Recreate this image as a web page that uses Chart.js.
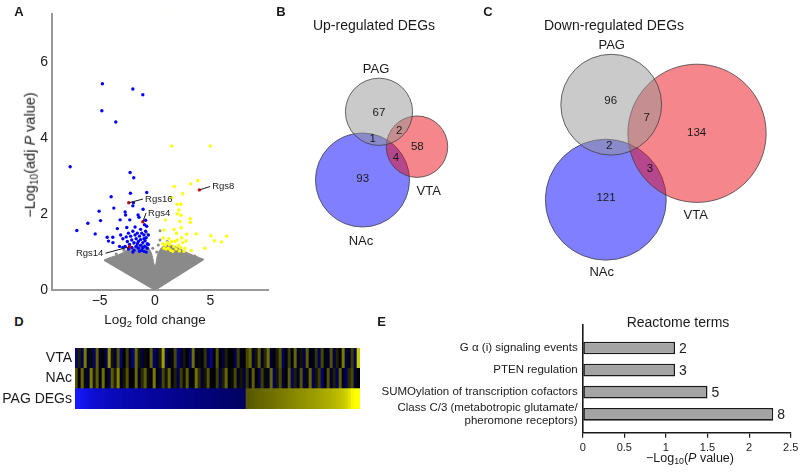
<!DOCTYPE html>
<html><head><meta charset="utf-8">
<script src="https://cdn.jsdelivr.net/npm/chart.js@4.4.1/dist/chart.umd.min.js"></script>
<style>
body{margin:0;background:#fff;width:800px;height:475px;position:relative;overflow:hidden;font-family:"Liberation Sans",Arial,sans-serif;color:#1a1a1a}
canvas{position:absolute}
.c{position:absolute;white-space:nowrap;line-height:1;transform:translate(-50%,-50%)}
.r{position:absolute;white-space:nowrap;line-height:1;transform:translate(-50%,-50%) rotate(-90deg)}
.pl{font-weight:bold;font-size:13px}
sub{font-size:70%;vertical-align:-0.25em;line-height:0}
</style></head><body>
<canvas id="cA" width="280" height="310" style="left:0;top:0"></canvas>
<canvas id="cB" width="210" height="300" style="left:290px;top:0"></canvas>
<canvas id="cC" width="280" height="300" style="left:520px;top:0"></canvas>
<canvas id="cD" width="360" height="61" style="left:0;top:348px"></canvas>
<canvas id="cE" width="420" height="160" style="left:380px;top:315px"></canvas>

<div class="c pl" style="left:19px;top:10.5px">A</div>
<div class="c pl" style="left:281px;top:10.5px">B</div>
<div class="c pl" style="left:488px;top:10.5px">C</div>
<div class="c pl" style="left:19px;top:321px">D</div>
<div class="c pl" style="left:381.5px;top:321px">E</div>

<div class="c" style="left:155px;top:320px;font-size:13.5px">Log<sub>2</sub> fold change</div>
<div class="r" style="left:30px;top:155px;font-size:14.5px">−Log<sub>10</sub>(adj <i>P</i> value)</div>
<div class="c" style="left:374px;top:25px;font-size:14px">Up-regulated DEGs</div>
<div class="c" style="left:614px;top:25px;font-size:14px">Down-regulated DEGs</div>
<div class="c" style="left:678px;top:322px;font-size:14px">Reactome terms</div>
<div class="c" style="left:690px;top:458px;font-size:12.5px">−Log<sub>10</sub>(<i>P</i> value)</div>

<script>
Chart.defaults.font.family = '"Liberation Sans", Arial, sans-serif';
Chart.defaults.color = '#1a1a1a';
Chart.defaults.layout.autoPadding = false;

// ---------- A: volcano plot ----------
const blueX = [-4.75,-2.0,-1.1,-4.8,-3.54,-7.66,-2.25,-1.92,-3.96,-2.22,-0.75,-3.72,-5.05,-1.08,-2.0,-1.95,-2.7,-2.66,-1.53,-1.45,-6.06,-4.92,-7.06,-5.4,-3.15,-2.28,-0.85,-0.95,-0.75,-3.4,-2.55,-1.8,-1.3,-4.32,-3.81,-4.2,-3.8,-3.1,-2.9,
  -2.6,-2.4,-2.2,-2.0,-1.8,-1.6,-1.4,-1.2,-1.0,-0.8,-2.5,-2.3,-2.1,-1.9,-1.7,-1.5,-1.3,-1.1,-0.9,-0.7,-2.7,-2.4,-2.1,-1.9,-1.7,-1.5,-1.3,-1.1,-0.9,-0.7,-0.6,-1.4,-1.2,-1.0,-0.8,-2.9,-3.2,-2.0,-1.6,-1.0,-0.85,-0.6];
const blueY = [5.44,5.30,5.15,4.73,4.43,3.25,3.10,2.96,2.46,2.55,2.57,2.16,2.08,2.13,2.22,2.30,2.06,1.98,1.98,1.92,1.76,1.83,1.57,1.48,1.85,1.85,1.84,1.72,1.68,1.62,1.65,1.66,1.60,1.39,1.39,1.29,1.25,1.45,1.35,
  1.40,1.50,1.42,1.55,1.45,1.50,1.42,1.50,1.45,1.38,1.28,1.20,1.32,1.25,1.35,1.28,1.33,1.25,1.30,1.22,1.15,1.08,1.12,1.05,1.15,1.10,1.18,1.12,1.15,1.10,1.20,1.02,1.05,1.02,1.00,1.12,1.15,1.00,1.22,1.35,1.55,1.45];
const yellowX = [1.71,1.5,4.98,3.87,3.21,1.74,2.5,1.5,2.01,2.34,2.16,2.01,2.34,3.18,0.93,2.25,3.18,1.71,2.37,0.81,1.95,2.86,3.72,5.05,6.46,5.37,6.0,4.48,3.27,0.75,
  0.7,0.9,1.1,1.3,1.5,1.2,1.0,0.8,1.4,1.7,1.9,2.1,2.3,2.5,2.7,2.0,2.4,1.6,2.2,2.6,1.8,2.8,1.25];
const yellowY = [7.32,3.80,3.80,2.89,2.80,2.73,2.54,2.44,2.26,2.26,2.11,2.01,1.97,1.88,1.85,1.81,1.78,1.60,1.64,1.58,1.50,1.47,1.48,1.43,1.42,1.30,1.27,1.10,1.04,1.37,
  1.22,1.18,1.25,1.20,1.28,1.10,1.08,1.10,1.05,1.15,1.08,1.18,1.12,1.25,1.10,1.32,1.38,1.02,1.03,1.02,1.28,1.30,1.35];
const greyExtraX = [-0.75,0.3,0.45,0.45,-0.2,0.15,-3.5,3.6,-2.8,1.1,-1.9];
const greyExtraY = [1.50,1.19,1.56,1.32,1.10,1.00,0.95,0.90,1.05,1.28,1.22];
// outline of the dense non-significant cloud (lower V edge and upper boundary)
const cloudLowX = [-4.6,0,4.4];
const cloudLowY = [0.79,0,0.81];
const cloudTopX = [-4.6,-4.2,-3.6,-3.0,-2.5,-2.0,-1.5,-1.0,-0.6,-0.3,0,0.25,0.6,1.0,1.5,2.0,2.5,3.0,3.6,4.4];
const cloudTopY = [0.79,0.84,0.90,0.97,1.05,1.12,1.18,1.20,1.12,0.95,0.62,0.95,1.12,1.18,1.18,1.12,1.05,0.97,0.90,0.81];
const rgsGenes = ['Rgs16','Rgs4','Rgs14','Rgs8'];
const rgsX = [-2.37,-1.1,-2.3,4.0];
const rgsY = [2.30,1.80,1.14,2.64];
const rgsLabelX = [-0.9,-0.63,-4.66,5.16];
const rgsLabelY = [2.40,2.03,0.97,2.73];
const volcanoXTicks = [-5,0,5];
const volcanoYTicks = [0,2,4,6];

const xy = (xs, ys) => xs.map((x,i)=>({x, y: ys[i]}));
const fmtMinus = v => (v < 0 ? '\u2212' + Math.abs(v) : String(v));
const noPadV = s => { s.paddingTop = 0; s.paddingBottom = 0; };

const rgsPlugin = {
  id:'rgsLabels',
  afterDatasetsDraw(chart){
    const {ctx, scales:{x, y}} = chart;
    ctx.save();
    ctx.font = '9.5px "Liberation Sans", Arial, sans-serif';
    ctx.fillStyle = '#1a1a1a'; ctx.strokeStyle = '#1a1a1a'; ctx.lineWidth = 1;
    ctx.textBaseline = 'middle';
    rgsGenes.forEach((g,i)=>{
      const px = x.getPixelForValue(rgsX[i]), py = y.getPixelForValue(rgsY[i]);
      const tx = x.getPixelForValue(rgsLabelX[i]), ty = y.getPixelForValue(rgsLabelY[i]);
      const left = rgsLabelX[i] > rgsX[i];
      ctx.beginPath(); ctx.moveTo(px, py); ctx.lineTo(tx + (left ? -2 : 2), ty); ctx.stroke();
      ctx.textAlign = left ? 'left' : 'right';
      ctx.fillText(g, tx, ty);
    });
    ctx.restore();
  }
};

new Chart(document.getElementById('cA'), {
  type:'scatter',
  data:{datasets:[
    {type:'line', data: xy(cloudLowX, cloudLowY), borderColor:'rgb(138,138,138)', borderWidth:1.5, pointRadius:0, fill:false, order:6},
    {type:'line', data: xy(cloudTopX, cloudTopY), borderColor:'rgb(138,138,138)', borderWidth:1, pointRadius:0, fill:'-1', backgroundColor:'rgb(138,138,138)', tension:0.3, order:6},
    {data: xy(greyExtraX, greyExtraY), backgroundColor:'rgb(138,138,138)', pointRadius:1.5, borderWidth:0, order:5},
    {data: xy(blueX, blueY), backgroundColor:'#0000ff', pointRadius:1.7, borderWidth:0, order:3},
    {data: xy(yellowX, yellowY), backgroundColor:'#ffff00', pointRadius:1.7, borderWidth:0, order:2},
    {data: xy(rgsX, rgsY), backgroundColor:'#e00000', pointRadius:1.7, borderWidth:0, order:1}
  ]},
  options:{
    responsive:false, animation:false, events:[],
    layout:{padding:{top:14, right:12}},
    plugins:{legend:{display:false}, tooltip:{enabled:false}},
    scales:{
      x:{type:'linear', min:-9.3, max:10.2,
         afterBuildTicks: s => { s.ticks = volcanoXTicks.map(v=>({value:v})); },
         ticks:{callback: fmtMinus, font:{size:14}, padding:3, maxRotation:0},
         grid:{display:false, drawTicks:false}, border:{color:'#999', width:2},
         afterFit: s => { s.height = 20; s.paddingLeft = 0; s.paddingRight = 0; }},
      y:{type:'linear', min:0, max:7.28,
         afterBuildTicks: s => { s.ticks = volcanoYTicks.map(v=>({value:v})); },
         ticks:{callback: fmtMinus, font:{size:14}, padding:4},
         grid:{display:false, drawTicks:false}, border:{color:'#999', width:2},
         afterFit: s => { s.width = 52; noPadV(s); }}
    }
  },
  plugins:[rgsPlugin]
});

// ---------- B, C: Venn diagrams (radius proportional to set size) ----------
const vennSets = ['PAG','NAc','VTA'];
const vennUpSize = [70, 98, 64];
const vennUpX = [185.4, 151.0, 264.6];
const vennUpY = [232.9, 375.0, 305.6];
const vennUpLabelX = [179.2, 147.9, 289.0];
const vennUpLabelY = [144.4, 503.5, 399.4];
const vennUpCounts = [67, 93, 58, 1, 2, 4];
const vennUpCountX = [185.4, 151.5, 265.2, 172.3, 227.7, 220.8];
const vennUpCountY = [234.8, 373.5, 305.6, 290.2, 272.3, 329.8];

const vennDownSize = [105, 126, 144];
const vennDownX = [190.0, 178.8, 368.8];
const vennDownY = [218.1, 416.0, 277.7];
const vennDownLabelX = [191.0, 170.2, 366.0];
const vennDownLabelY = [93.8, 567.3, 448.0];
const vennDownCounts = [96, 121, 134, 2, 7, 3];
const vennDownCountX = [189.0, 179.2, 368.0, 186.0, 264.0, 270.8];
const vennDownCountY = [210.4, 413.1, 277.7, 304.2, 246.5, 352.7];

const vennFill = ['rgba(150,150,150,0.5)','rgba(0,0,255,0.5)','rgba(235,15,25,0.5)'];
const vennLayer = [0, 2, 1]; // PAG on top, then VTA, NAc at the bottom
const PX_PER_GENE = 0.48;

function makeVenn(id, sizes, cx, cy, lx, ly, counts, kx, ky){
  const cv = document.getElementById(id);
  const textPlugin = {
    id:'vennText',
    afterDatasetsDraw(chart){
      const {ctx, scales:{x, y}} = chart;
      ctx.save(); ctx.fillStyle = '#1a1a1a'; ctx.textAlign = 'center'; ctx.textBaseline = 'middle';
      ctx.font = '13px "Liberation Sans", Arial, sans-serif';
      vennSets.forEach((s,i)=> ctx.fillText(s, x.getPixelForValue(lx[i]), y.getPixelForValue(ly[i])));
      ctx.font = '11.5px "Liberation Sans", Arial, sans-serif';
      counts.forEach((n,i)=> ctx.fillText(String(n), x.getPixelForValue(kx[i]), y.getPixelForValue(ky[i])));
      ctx.restore();
    }
  };
  new Chart(cv, {
    type:'bubble',
    data:{datasets: vennSets.map((s,i)=>({
      label:s, data:[{x:cx[i], y:cy[i], r: sizes[i]*PX_PER_GENE}],
      backgroundColor: vennFill[i], borderColor:'rgba(60,60,60,0.85)', borderWidth:0.9,
      clip:false, order: vennLayer[i]
    }))},
    options:{
      responsive:false, animation:false, events:[],
      layout:{padding:0, autoPadding:false},
      plugins:{legend:{display:false}, tooltip:{enabled:false}},
      scales:{
        x:{type:'linear', display:false, min:0, max: cv.width/PX_PER_GENE},
        y:{type:'linear', display:false, min:0, max: cv.height/PX_PER_GENE, reverse:true}
      }
    },
    plugins:[textPlugin]
  });
}
makeVenn('cB', vennUpSize, vennUpX, vennUpY, vennUpLabelX, vennUpLabelY, vennUpCounts, vennUpCountX, vennUpCountY);
makeVenn('cC', vennDownSize, vennDownX, vennDownY, vennDownLabelX, vennDownLabelY, vennDownCounts, vennDownCountX, vennDownCountY);

// ---------- D: heatmap of log2 fold change (PAG DEGs sorted) ----------
const heatRows = ['PAG DEGs','NAc','VTA'];
const pagDEG = [-2.6,-2.44,-2.33,-2.25,-2.18,-2.1,-2.06,-2.0,-1.97,-1.93,
  -1.9,-1.86,-1.84,-1.8,-1.78,-1.77,-1.74,-1.72,-1.71,-1.68,
  -1.66,-1.65,-1.62,-1.6,-1.59,-1.56,-1.55,-1.52,-1.5,-1.49,
  -1.46,-1.44,-1.43,-1.4,-1.38,-1.37,-1.34,-1.32,-1.31,-1.28,
  -1.26,-1.25,-1.22,-1.2,-1.19,-1.16,-1.14,-1.13,-1.1,-1.08,
  -1.07,-1.04,-1.02,-1.0,-0.98,-0.97,-0.94,
  0.85,0.88,0.91,0.95,0.98,1.0,1.04,1.07,1.1,1.12,
  1.16,1.19,1.21,1.25,1.28,1.3,1.34,1.37,1.4,1.42,
  1.46,1.49,1.51,1.55,1.58,1.62,1.66,1.7,1.73,1.78,
  1.83,1.88,1.95,2.05,2.2,2.4,2.55,2.7];
const nacDEG = [0.8,-0.2,1.0,0.1,-0.6,1.2,0.2,0.9,-0.3,1.1,0.0,-0.7,0.9,0.3,1.3,-0.4,0.2,0.8,-0.2,0.0,
  1.0,-0.5,0.4,0.9,0.1,-0.3,1.2,0.0,-0.6,0.7,0.2,1.0,-0.2,0.3,-0.8,0.6,0.1,0.9,-0.3,0.0,
  1.1,0.4,-0.5,0.2,0.8,-0.1,0.0,0.6,-0.7,0.3,1.0,-0.2,0.1,0.7,-0.4,0.2,-0.6,
  0.5,-0.3,0.9,0.0,-0.8,0.6,0.1,-0.5,1.0,-0.9,0.2,0.7,-0.6,0.0,0.9,-1.0,0.3,-0.4,0.8,-0.7,
  0.1,1.0,-0.9,0.2,0.6,-1.1,0.0,0.8,-0.5,0.3,-0.9,0.9,-0.2,-1.0,0.4,0.7,-0.6,0.0];
const vtaDEG = [-1.2,0.3,-0.8,1.2,-0.5,0.1,-1.0,0.9,-0.3,0.0,-0.9,1.4,0.2,-0.6,0.8,-1.1,0.0,0.6,-0.4,-1.2,
  1.0,0.2,-0.7,0.1,-0.2,0.9,-1.0,-0.5,0.3,1.6,-0.8,0.0,-0.3,0.7,-1.1,-0.6,0.2,0.0,-0.9,1.1,
  -0.4,0.1,-0.2,0.5,-0.7,-1.3,0.0,0.8,-0.2,-0.6,0.3,-0.1,0.0,-0.8,0.6,-0.3,0.0,
  0.7,1.0,-0.5,0.2,0.9,-0.4,0.4,1.1,-0.6,-0.2,0.3,0.8,-0.9,-0.2,0.6,-0.3,1.0,-0.4,0.2,-0.8,
  0.9,-0.1,-0.3,0.5,-0.9,0.7,-0.2,-0.4,0.8,-0.7,0.3,-0.1,1.2,-0.6,-0.3,0.6,-0.9,2.0];

function heatColor(v){
  const t = Math.min(1, Math.abs(v)/2.5);
  if (v < 0) { const w = Math.round(25*t*t*t); return `rgb(${w},${w},${Math.round(255*t)})`; }
  const c = Math.round(255*t); return `rgb(${c},${c},0)`;
}
new Chart(document.getElementById('cD'), {
  type:'bar',
  data:{labels: pagDEG.map((_,i)=>'g'+(i+1)), datasets:[
    {data: pagDEG.map(()=>[0,1]), backgroundColor: pagDEG.map(heatColor)},
    {data: nacDEG.map(()=>[1,2]), backgroundColor: nacDEG.map(heatColor)},
    {data: vtaDEG.map(()=>[2,3]), backgroundColor: vtaDEG.map(heatColor)}
  ]},
  options:{
    responsive:false, animation:false, events:[],
    layout:{padding:0},
    datasets:{bar:{grouped:false, barPercentage:1, categoryPercentage:1, borderWidth:0}},
    plugins:{legend:{display:false}, tooltip:{enabled:false}},
    scales:{
      x:{display:false},
      y:{type:'linear', min:0, max:3,
         afterBuildTicks: s => { s.ticks = [0.5,1.5,2.5].map(v=>({value:v})); },
         ticks:{callback: v => heatRows[Math.floor(v)], font:{size:14}, padding:3},
         grid:{display:false, drawTicks:false}, border:{display:false},
         afterFit: s => { s.width = 75; noPadV(s); }}
    }
  }
});

// ---------- E: Reactome terms ----------
const reactomeTerms = ['G \u03b1 (i) signaling events','PTEN regulation','SUMOylation of transcription cofactors',['Class C/3 (metabotropic glutamate/','pheromone receptors)']];
const reactomeLogP = [1.11, 1.11, 1.50, 2.29];
const reactomeGenes = [2, 3, 5, 8];

const barLabels = {
  id:'barLabels',
  afterDatasetsDraw(chart){
    const {ctx} = chart; const meta = chart.getDatasetMeta(0);
    ctx.save(); ctx.fillStyle = '#1a1a1a'; ctx.font = '14px "Liberation Sans", Arial, sans-serif';
    ctx.textAlign = 'left'; ctx.textBaseline = 'middle';
    meta.data.forEach((bar,i)=> ctx.fillText(String(reactomeGenes[i]), bar.x + 4, bar.y + 1));
    ctx.restore();
  }
};
new Chart(document.getElementById('cE'), {
  type:'bar',
  data:{datasets:[{
    data: reactomeLogP.map((v,i)=>({x:v, y:i+1})),
    backgroundColor:'#a4a4a4', borderColor:'#1a1a1a', borderWidth:1.6, borderSkipped:false,
    barPercentage:0.72, categoryPercentage:0.8
  }]},
  options:{
    indexAxis:'y', responsive:false, animation:false, events:[],
    layout:{padding:{top:10, right:9.3}},
    plugins:{legend:{display:false}, tooltip:{enabled:false}},
    scales:{
      x:{type:'linear', min:0, max:2.5,
         ticks:{stepSize:0.5, callback: v => String(v), font:{size:11}, padding:4, maxRotation:0},
         grid:{drawOnChartArea:false, drawTicks:true, tickLength:5, color:'#1a1a1a', lineWidth:1.2},
         border:{color:'#1a1a1a', width:1.6},
         afterFit: s => { s.height = 42.3; s.paddingLeft = 0; s.paddingRight = 0; }},
      y:{type:'linear', reverse:true, offset:false, min:-0.04, max:4.83,
         afterBuildTicks: s => { s.ticks = [1,2,3,4].map(v=>({value:v})); },
         ticks:{callback: v => reactomeTerms[v-1], font:{size:11.5}, padding:5, autoSkip:false},
         grid:{display:false, drawTicks:false, offset:false}, border:{color:'#1a1a1a', width:1.6},
         afterFit: s => { s.width = 202.7; noPadV(s); }}
    }
  },
  plugins:[barLabels]
});
</script>
</body></html>
